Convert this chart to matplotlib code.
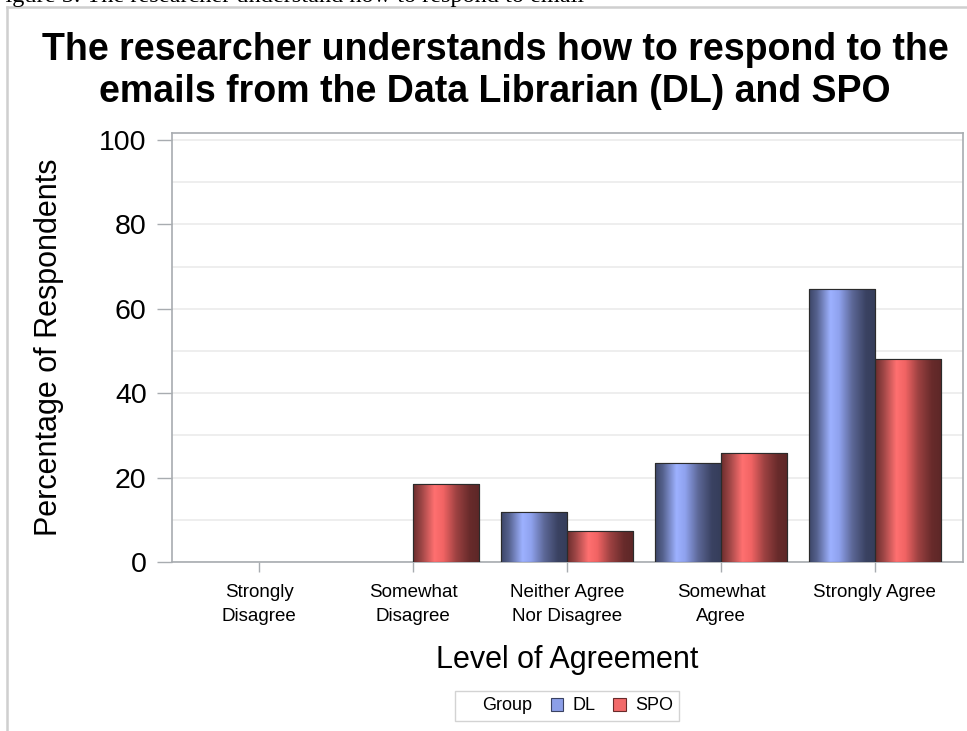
import matplotlib
matplotlib.use("Agg")
import matplotlib.pyplot as plt
import numpy as np
from matplotlib.colors import LinearSegmentedColormap
from matplotlib.patches import Patch
from matplotlib.lines import Line2D

plt.rcParams['font.family'] = ['Liberation Sans', 'DejaVu Sans']

# ---- data ----
categories = ["Strongly\nDisagree", "Somewhat\nDisagree", "Neither Agree\nNor Disagree",
              "Somewhat\nAgree", "Strongly Agree"]
dl_values = [0.0, 0.0, 11.8, 23.5, 64.7]
spo_values = [0.0, 18.5, 7.4, 25.9, 48.1]
series_names = ["DL", "SPO"]
yticks = [0, 20, 40, 60, 80, 100]
title = "The researcher understands how to respond to the\nemails from the Data Librarian (DL) and SPO"
caption = "Figure 5: The researcher understand how to respond to email"

W, H = 967, 731
fig = plt.figure(figsize=(W / 100, H / 100), dpi=100)
ax = fig.add_axes([171.7 / W, 1 - 562 / H, (962.7 - 171.7) / W, (562 - 132.7) / H])

x = np.arange(len(categories))
bw = 0.43

blue_cmap = LinearSegmentedColormap.from_list(
    "b", [(0.0, "#3c4566"), (0.12, "#56628f"), (0.32, "#9db1ff"), (0.45, "#8fa2ee"),
          (0.65, "#5c6796"), (0.85, "#3a4262"), (1.0, "#353d5a")])
red_cmap = LinearSegmentedColormap.from_list(
    "r", [(0.0, "#6a2c2c"), (0.12, "#9a4444"), (0.32, "#ff7070"), (0.45, "#f26464"),
          (0.65, "#9c4141"), (0.85, "#682b2b"), (1.0, "#5c2727")])

grad = np.linspace(0, 1, 256).reshape(1, -1)

def draw_bars(offset, vals, cmap, face):
    bars = ax.bar(x + offset, vals, width=bw, color=face, edgecolor="#2a2a2a",
                  linewidth=0.8, zorder=3)
    for b in bars:
        h = b.get_height()
        if h <= 0:
            b.set_visible(False)
            continue
        x0 = b.get_x()
        im = ax.imshow(grad, cmap=cmap, extent=[x0, x0 + b.get_width(), 0, h],
                       aspect="auto", zorder=3.5, interpolation="bilinear")
        im.set_clip_path(b)
        outline = plt.Rectangle((x0, 0), b.get_width(), h, fill=False,
                                edgecolor="#2b2b2b", linewidth=0.8, zorder=4)
        ax.add_patch(outline)
    return bars

draw_bars(-bw / 2, dl_values, blue_cmap, "#7080c0")
draw_bars(bw / 2, spo_values, red_cmap, "#c05050")

ax.set_xlim(-0.567, len(categories) - 1 + 0.57)
ax.set_ylim(0, 101.7)
ax.set_yticks(yticks)
ax.set_yticks(np.arange(10, 100, 20), minor=True)
ax.yaxis.grid(True, which="both", color="#ebebeb", linewidth=1.2, zorder=0)
ax.set_axisbelow(True)
ax.set_xticks(x)
ax.set_xticklabels(categories, fontsize=13.5, linespacing=1.55)
ax.tick_params(axis="y", which="major", labelsize=20.5, length=11, width=1,
               color="#a8acb0", pad=7)
ax.tick_params(axis="y", which="minor", length=0)
ax.tick_params(axis="x", length=7, width=1, color="#a8acb0", pad=9)
for s in ax.spines.values():
    s.set_color("#a8acb0")
    s.set_linewidth(1.2)

ax.set_ylabel("Percentage of Respondents", fontsize=22, labelpad=25)
ax.set_xlabel("Level of Agreement", fontsize=22, labelpad=14)

fig.text(495 / W, 1 - 71 / H, title, ha="center", va="center", fontsize=27,
         fontweight="bold", linespacing=1.25)

# legend
handles = [Patch(facecolor="none", edgecolor="none"),
           Patch(facecolor="#8c9fe8", edgecolor="#3a4262", linewidth=0.8),
           Patch(facecolor="#f26a6a", edgecolor="#682b2b", linewidth=0.8)]
labels = ["Group", series_names[0], series_names[1]]
leg = fig.legend(handles, labels, loc="center", bbox_to_anchor=(567 / W, 1 - 706 / H),
                 ncol=3, fontsize=13, frameon=True, fancybox=False,
                 edgecolor="#c8c8c8", handlelength=0.7, handleheight=0.7,
                 handletextpad=0.5, columnspacing=1.0, borderpad=0.35)
leg.get_frame().set_linewidth(1.0)
leg.legend_handles[0].set_visible(False)

# frame and cropped caption
fig.add_artist(Line2D([7 / W, 7 / W], [0, 1 - 7 / H], color="#cfcfcf", linewidth=1.8))
fig.add_artist(Line2D([7 / W, 1], [1 - 7 / H, 1 - 7 / H], color="#cfcfcf", linewidth=1.8))
fig.text(-8 / W, 1 - 2 / H, caption, ha="left", va="baseline", fontsize=17.5,
         family="Liberation Serif")

fig.savefig("out.png", dpi=100, facecolor="white")
